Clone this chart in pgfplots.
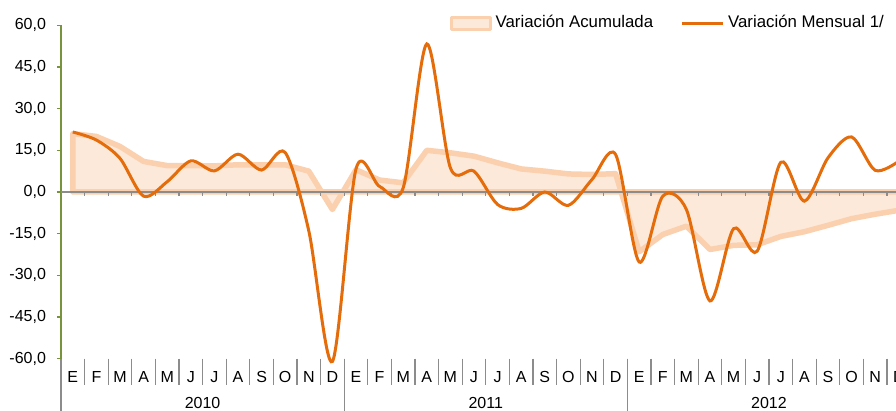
\documentclass[border=0pt]{standalone}
\usepackage{fontspec}
\setmainfont{Liberation Sans}
\usepackage{pgfplots}
\pgfplotsset{compat=1.18}
\definecolor{mens}{HTML}{E46C0A}
\definecolor{acumfill}{HTML}{FDE9D9}
\definecolor{acumline}{HTML}{FBD0AE}
\definecolor{axgreen}{HTML}{77933C}
\definecolor{axgray}{HTML}{8C8C8C}
\begin{document}
\begin{tikzpicture}
\begin{axis}[
  at={(0,0)}, anchor=origin,
  x=11.8pt, y=1.389pt,
  xmin=-0.5, xmax=35.5, ymin=-60, ymax=60,
  clip=false,
  axis x line*=bottom, axis y line*=left,
  x axis line style={draw=none},
  y axis line style={draw=axgreen, line width=0.6pt, -},
  font=\fontsize{8}{9.6}\selectfont,
  xtick={0,...,35},
  xticklabels={E,F,M,A,M,J,J,A,S,O,N,D,E,F,M,A,M,J,J,A,S,O,N,D,E,F,M,A,M,J,J,A,S,O,N,D},
  xtick style={draw=none},
  xticklabel style={anchor=center, yshift=-7pt, font=\fontsize{8}{9.6}\selectfont},
  ytick={-60,-45,...,60},
  ytick style={draw=axgreen, line width=0.6pt},
  tick align=outside, major tick length=2pt,
  yticklabel style={font=\fontsize{8}{9.6}\selectfont, xshift=-2pt,
    /pgf/number format/.cd, fixed, fixed zerofill, precision=1, use comma, assume math mode=true},
  legend columns=2,
  legend style={at={(0.457,1.006)}, anchor=west, draw=none, fill=none, inner sep=0pt,
    font=\fontsize{8.4}{10}\selectfont,
    /tikz/every even column/.append style={column sep=11.5pt}},
  legend cell align=left,
]
\addplot[fill=acumfill, draw=acumline, line width=2.75pt, line join=round,
  legend image code/.code={\draw[fill=acumfill, draw=acumline, line width=1.5pt] (0pt,-3pt) rectangle (19.5pt,3pt);}]
coordinates {
(0,0) (0,21) (1,20) (2,16.4) (3,11) (4,9.5) (5,9.5) (6,9.4) (7,9.8) (8,9.8) (9,9.8) (10,7.5) (11,-6.3)
(12,8) (13,4.3) (14,3.3) (15,15) (16,14.1) (17,12.9) (18,10.5) (19,8.3) (20,7.5) (21,6.5) (22,6.3) (23,6.6)
(24,-21.5) (25,-15.3) (26,-12.3) (27,-20.7) (28,-19.2) (29,-19) (30,-16) (31,-14.3) (32,-12) (33,-9.6) (34,-8) (35,-6.6) (35,0)
} \closedcycle;
\addlegendentry{Variación Acumulada}
\draw[axgray, line width=0.7pt] (axis cs:-0.5,0) -- (axis cs:35.5,0);
\pgfplotsinvokeforeach{0,...,34}{\draw[axgray, line width=0.6pt] (axis cs:#1.5,0) -- ++(0pt,-2pt);}
\pgfplotsinvokeforeach{0,...,35}{\draw[axgray, line width=0.6pt] (axis cs:#1.5,-60) -- (axis cs:#1.5,-69.4);}
\draw[axgray, line width=0.6pt] (axis cs:-0.5,-60) -- (axis cs:-0.5,-82);
\draw[axgray, line width=0.6pt] (axis cs:11.5,-60) -- (axis cs:11.5,-82);
\draw[axgray, line width=0.6pt] (axis cs:23.5,-60) -- (axis cs:23.5,-82);
\node[anchor=north, inner sep=0pt, font=\fontsize{8}{9.6}\selectfont] at (axis cs:5.5,-73.6) {2010};
\node[anchor=north, inner sep=0pt, font=\fontsize{8}{9.6}\selectfont] at (axis cs:17.5,-73.6) {2011};
\node[anchor=north, inner sep=0pt, font=\fontsize{8}{9.6}\selectfont] at (axis cs:29.5,-73.6) {2012};
\addplot[mens, line width=1.5pt, smooth, no markers,
  legend image code/.code={\draw[mens, line width=1.5pt] (0pt,0pt) -- (20.5pt,0pt);}]
coordinates {
(0,21.6) (1,18.7) (2,12.1) (3,-1.5) (4,3.7) (5,11.2) (6,7.6) (7,13.6) (8,7.9) (9,14.2) (10,-14) (11,-61)
(12,8.3) (13,2) (14,1.5) (15,53.3) (16,8.7) (17,7.5) (18,-4.5) (19,-5.9) (20,0) (21,-4.8) (22,4.5) (23,13.5)
(24,-25.2) (25,-1.5) (26,-6.3) (27,-39.2) (28,-13.2) (29,-21.3) (30,10.7) (31,-3.3) (32,12.3) (33,19.8) (34,7.8) (35,11.1)
};
\addlegendentry{Variación Mensual 1/}
\end{axis}
\pgfresetboundingbox
\path[use as bounding box] (-36.4pt,-109.5pt) rectangle (411.6pt,96pt);
\end{tikzpicture}
\end{document}
